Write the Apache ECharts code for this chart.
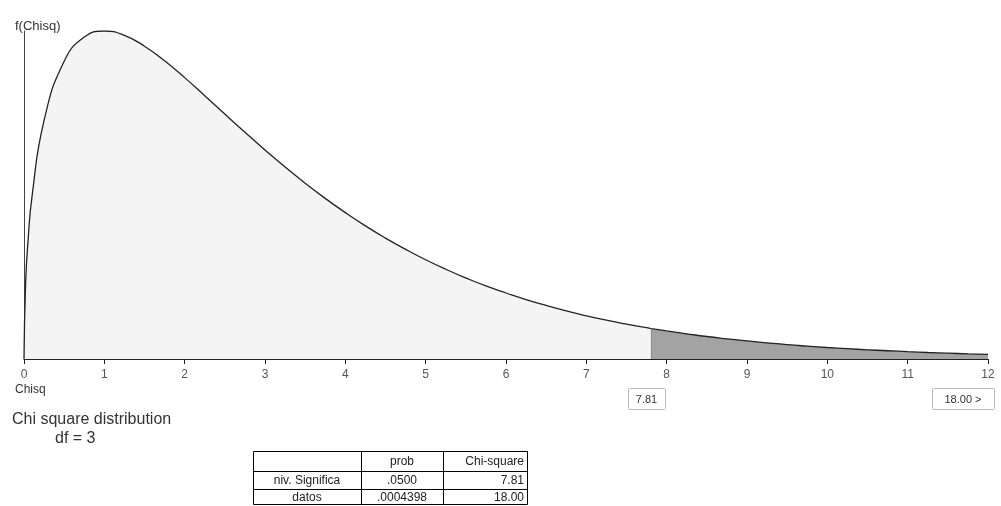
<!DOCTYPE html>
<html>
<head>
<meta charset="utf-8">
<script src="https://cdn.jsdelivr.net/npm/echarts@6/dist/echarts.min.js"></script>
<style>
html,body{margin:0;padding:0;background:#fff;}
#chart{width:1001px;height:506px;}
</style>
</head>
<body>
<div id="chart"></div>
<script>
// chi-square values (x) and density
const chiX = [0, 0.02, 0.05, 0.1, 0.25, 0.5, 0.75, 1, 1.25, 1.5, 1.75, 2, 2.25, 2.5, 2.75, 3, 3.25, 3.5, 3.75, 4, 4.25, 4.5, 4.75, 5, 5.25, 5.5, 5.75, 6, 6.25, 6.5, 6.75, 7, 7.25, 7.5, 7.75, 7.81, 8, 8.25, 8.5, 8.75, 9, 9.25, 9.5, 9.75, 10, 10.25, 10.5, 10.75, 11, 11.25, 11.5, 11.75, 12];
const density = [0, 0.0559, 0.0870, 0.1200, 0.1760, 0.2197, 0.2375, 0.2420, 0.2388, 0.2308, 0.2200, 0.2076, 0.1943, 0.1807, 0.1673, 0.1542, 0.1416, 0.1297, 0.1185, 0.1080, 0.0982, 0.0892, 0.0809, 0.0732, 0.0662, 0.0598, 0.0539, 0.0487, 0.0438, 0.0395, 0.0355, 0.0319, 0.0286, 0.0257, 0.0231, 0.0224, 0.0207, 0.0186, 0.0166, 0.0149, 0.0133, 0.0119, 0.0106, 0.0095, 0.0085, 0.0076, 0.0068, 0.0061, 0.0054, 0.0048, 0.0043, 0.0038, 0.0034];
const criticalValue = 7.81;
const xTicks = ['0','1','2','3','4','5','6','7','8','9','10','11','12'];
const tableHeader = ['', 'prob', 'Chi-square'];
const tableRow1 = ['niv. Significa', '.0500', '7.81'];
const tableRow2 = ['datos', '.0004398', '18.00'];
const boxLabels = ['7.81', '18.00 >'];
const titleLines = ['Chi square distribution', 'df = 3'];

const pairs = chiX.map((x, i) => [x, density[i]]);
const leftPart = pairs.filter(p => p[0] <= criticalValue);
const rightPart = pairs.filter(p => p[0] >= criticalValue);

const chart = echarts.init(document.getElementById('chart'), null, {renderer: 'canvas'});
const FONT = 'Liberation Sans, Arial, sans-serif';

const tbl = {colX: [253, 361, 443, 527], rowY: [451, 471, 489, 505]};
const tableElems = [];
tableElems.push({type: 'rect', shape: {x: tbl.colX[0] + 0.5, y: tbl.rowY[0] + 0.5, width: tbl.colX[3] - tbl.colX[0], height: tbl.rowY[3] - tbl.rowY[0] - 1}, style: {fill: '#fff', stroke: '#000', lineWidth: 1}});
[1, 2].forEach(i => {
  tableElems.push({type: 'line', shape: {x1: tbl.colX[i] + 0.5, y1: tbl.rowY[0], x2: tbl.colX[i] + 0.5, y2: tbl.rowY[3]}, style: {stroke: '#000', lineWidth: 1}});
  tableElems.push({type: 'line', shape: {x1: tbl.colX[0], y1: tbl.rowY[i] + 0.5, x2: tbl.colX[3], y2: tbl.rowY[i] + 0.5}, style: {stroke: '#000', lineWidth: 1}});
});
[tableHeader, tableRow1, tableRow2].forEach((row, r) => {
  row.forEach((txt, c) => {
    const x0 = tbl.colX[c], x1 = tbl.colX[c + 1];
    const yc = (tbl.rowY[r] + tbl.rowY[r + 1]) / 2 + 1;
    tableElems.push({
      type: 'text',
      style: {
        text: txt,
        x: c === 2 ? x1 - 3 : (x0 + x1) / 2,
        y: yc,
        align: c === 2 ? 'right' : 'center',
        verticalAlign: 'middle',
        font: '12px ' + FONT, fill: '#222'
      }
    });
  });
});

function box(x, y, w, h, txt) {
  return [
    {type: 'rect', shape: {x: x + 0.5, y: y + 0.5, width: w, height: h, r: 1}, style: {fill: '#fff', stroke: '#bbb', lineWidth: 1}},
    {type: 'text', style: {text: txt, x: x + w / 2, y: y + h / 2 + 1, align: 'center', verticalAlign: 'middle', font: '11px ' + FONT, fill: '#333'}}
  ];
}

const option = {
  animation: false,
  backgroundColor: '#fff',
  grid: {left: 24, right: 13, top: 31, bottom: 147},
  xAxis: {
    type: 'value', min: 0, max: 12, interval: 1,
    axisLine: {show: true, onZero: false, lineStyle: {color: '#222', width: 1}},
    axisTick: {show: true, length: 5, lineStyle: {color: '#222'}},
    axisLabel: {color: '#555', fontSize: 12, fontFamily: FONT, margin: 10,
      formatter: v => xTicks[Math.round(v)] ?? ''},
    splitLine: {show: false}
  },
  yAxis: {
    type: 'value', min: 0, max: 0.242,
    axisLine: {show: true, lineStyle: {color: '#444', width: 1}},
    axisTick: {show: false}, axisLabel: {show: false}, splitLine: {show: false}
  },
  series: [
    {
      type: 'line', data: leftPart, showSymbol: false, symbol: 'none', smooth: true,
      lineStyle: {color: '#222', width: 1.3},
      areaStyle: {color: '#f4f4f4', opacity: 1}
    },
    {
      type: 'line', data: rightPart, showSymbol: false, symbol: 'none', smooth: true,
      lineStyle: {color: '#222', width: 1.3},
      areaStyle: {color: '#a3a3a3', opacity: 1}
    },
    {
      type: 'line', data: [[criticalValue, 0], [criticalValue, rightPart[0][1]]], symbol: 'none',
      lineStyle: {color: '#888', width: 1}, silent: true
    }
  ],
  graphic: [
    {type: 'text', left: 15, top: 20, style: {text: 'f(Chisq)', font: '13px ' + FONT, fill: '#333'}},
    {type: 'text', left: 15, top: 384, style: {text: 'Chisq', font: '12px ' + FONT, fill: '#333'}},
    {type: 'text', left: 12, top: 412, style: {text: titleLines[0], font: '16px ' + FONT, fill: '#333'}},
    {type: 'text', left: 55, top: 431, style: {text: titleLines[1], font: '16px ' + FONT, fill: '#333'}},
    ...box(628, 388, 37, 21, boxLabels[0]),
    ...box(932, 388, 62, 21, boxLabels[1]),
    ...tableElems
  ]
};
chart.setOption(option);
</script>
</body>
</html>
